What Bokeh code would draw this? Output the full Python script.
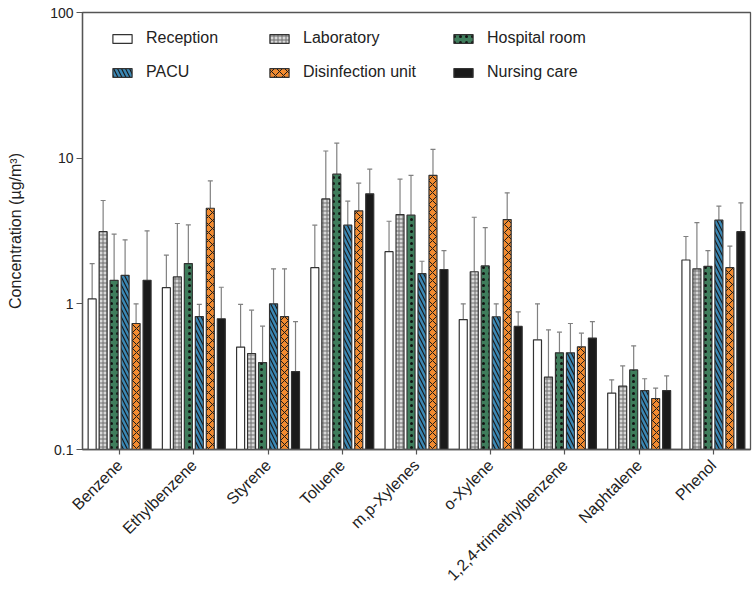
from bokeh.plotting import figure
from bokeh.models import (FactorRange, Range1d, Whisker, TeeHead, ColumnDataSource,
                          Legend, LegendItem, FixedTicker, NumeralTickFormatter)
from bokeh.transform import dodge
from bokeh.embed import file_html
from bokeh.resources import INLINE
import math

categories = ["Benzene", "Ethylbenzene", "Styrene", "Toluene", "m,p-Xylenes",
              "o-Xylene", "1,2,4-trimethylbenzene", "Naphtalene", "Phenol"]

series_names = ["Reception", "Laboratory", "Hospital room", "PACU",
                "Disinfection unit", "Nursing care"]

reception = [1.08, 1.29, 0.505, 1.77, 2.28, 0.78, 0.566, 0.244, 2.0]
reception_err = [1.89, 2.16, 0.99, 3.47, 3.69, 1.0, 1.0, 0.301, 2.9]
laboratory = [3.13, 1.53, 0.456, 5.25, 4.1, 1.66, 0.314, 0.272, 1.74]
laboratory_err = [5.12, 3.56, 0.905, 11.2, 7.18, 3.93, 0.663, 0.375, 3.61]
hospital_room = [1.45, 1.89, 0.395, 7.77, 4.06, 1.82, 0.461, 0.352, 1.81]
hospital_room_err = [3.01, 3.48, 0.703, 12.7, 7.63, 3.34, 0.639, 0.515, 2.32]
pacu = [1.57, 0.818, 1.0, 3.47, 1.61, 0.815, 0.461, 0.254, 3.75]
pacu_err = [2.75, 0.99, 1.74, 5.07, 1.96, 1.0, 0.733, 0.306, 4.69]
disinfection = [0.733, 4.53, 0.818, 4.35, 7.63, 3.79, 0.507, 0.224, 1.77]
disinfection_err = [1.0, 6.98, 1.74, 6.73, 11.5, 5.78, 0.629, 0.264, 2.49]
nursing_care = [1.45, 0.79, 0.343, 5.69, 1.72, 0.70, 0.582, 0.254, 3.13]
nursing_care_err = [3.17, 1.30, 0.756, 8.41, 2.32, 0.88, 0.756, 0.32, 4.94]

y_ticks = [0.1, 1, 10, 100]

values = [reception, laboratory, hospital_room, pacu, disinfection, nursing_care]
errors = [reception_err, laboratory_err, hospital_room_err, pacu_err,
          disinfection_err, nursing_care_err]

styles = [
    dict(fill_color="white"),
    dict(fill_color="#d9d9d9", hatch_pattern="+", hatch_color="#6e6e6e",
         hatch_scale=4, hatch_weight=1),
    dict(fill_color="#3f7d5c", hatch_pattern=".", hatch_color="#111111",
         hatch_scale=6, hatch_weight=3),
    dict(fill_color="#3b88b5", hatch_pattern="\\", hatch_color="#1a1a1a",
         hatch_scale=8, hatch_weight=1.2),
    dict(fill_color="#f28b30", hatch_pattern="x", hatch_color="#1a1a1a",
         hatch_scale=8, hatch_weight=1),
    dict(fill_color="#1a1a1a"),
]

FONT = "Liberation Sans"
TXT = "#222222"

p = figure(x_range=FactorRange(factors=categories), y_axis_type="log",
           y_range=Range1d(0.1, 100), width=752, height=594,
           output_backend="svg", toolbar_location=None,
           min_border_left=82, min_border_right=2, min_border_top=12,
           min_border_bottom=145)

pitch = 0.148
bar_w = 0.108
renderers = []
for i, (name, vals, errs, st) in enumerate(zip(series_names, values, errors, styles)):
    off = (i - 2.5) * pitch
    src = ColumnDataSource(dict(cat=categories, val=vals, err=errs))
    w = Whisker(source=src, base=dodge("cat", off, range=p.x_range),
                lower="val", upper="err", dimension="height",
                line_color="#808080", line_width=1.2,
                upper_head=TeeHead(size=5, line_color="#808080", line_width=1.2),
                lower_head=None)
    p.add_layout(w)
    r = p.vbar(x=dodge("cat", off, range=p.x_range), top="val", bottom=y_ticks[0],
               width=bar_w, source=src, line_color="#333333", line_width=1.2, **st)
    renderers.append(r)

# legends (three columns)
cols = [(0, 3), (1, 4), (2, 5)]
xs = [28, 185, 369]
for (a, b), x in zip(cols, xs):
    leg = Legend(items=[LegendItem(label=series_names[a], renderers=[renderers[a]]),
                        LegendItem(label=series_names[b], renderers=[renderers[b]])],
                 location=(x, 368), padding=0, margin=0, spacing=16,
                 glyph_width=24, glyph_height=11, label_height=18,
                 label_standoff=12, border_line_color=None,
                 background_fill_alpha=0, label_text_font=FONT,
                 label_text_font_size="16px", label_text_color=TXT)
    p.add_layout(leg)

p.xgrid.grid_line_color = None
p.ygrid.grid_line_color = None
p.outline_line_color = "#555555"
p.outline_line_width = 1.3

p.yaxis.ticker = FixedTicker(ticks=y_ticks)
p.yaxis.formatter = NumeralTickFormatter(format="0.[0]")
p.yaxis.minor_tick_line_color = None
p.yaxis.major_tick_in = 0
p.yaxis.major_tick_out = 6
p.yaxis.axis_label = "Concentration (µg/m³)"
p.yaxis.axis_label_text_font = FONT
p.yaxis.axis_label_text_font_size = "16px"
p.yaxis.axis_label_text_font_style = "normal"
p.yaxis.axis_label_text_color = TXT
p.yaxis.axis_label_standoff = 23
p.yaxis.major_label_text_font = FONT
p.yaxis.major_label_text_font_size = "14px"
p.yaxis.major_label_text_color = TXT
p.yaxis.major_label_standoff = 3

p.xaxis.major_label_orientation = math.pi / 4
p.xaxis.major_label_text_font = FONT
p.xaxis.major_label_text_font_size = "16px"
p.xaxis.major_label_text_color = TXT
p.xaxis.major_label_standoff = 8
p.xaxis.major_tick_in = 0
p.xaxis.major_tick_out = 5

for ax in (p.xaxis, p.yaxis):
    ax.axis_line_color = "#555555"
    ax.axis_line_width = 1.3
    ax.major_tick_line_color = "#555555"
    ax.major_tick_line_width = 1.2

p.x_range.range_padding = 0

open("out.html", "w").write(file_html(p, INLINE))
